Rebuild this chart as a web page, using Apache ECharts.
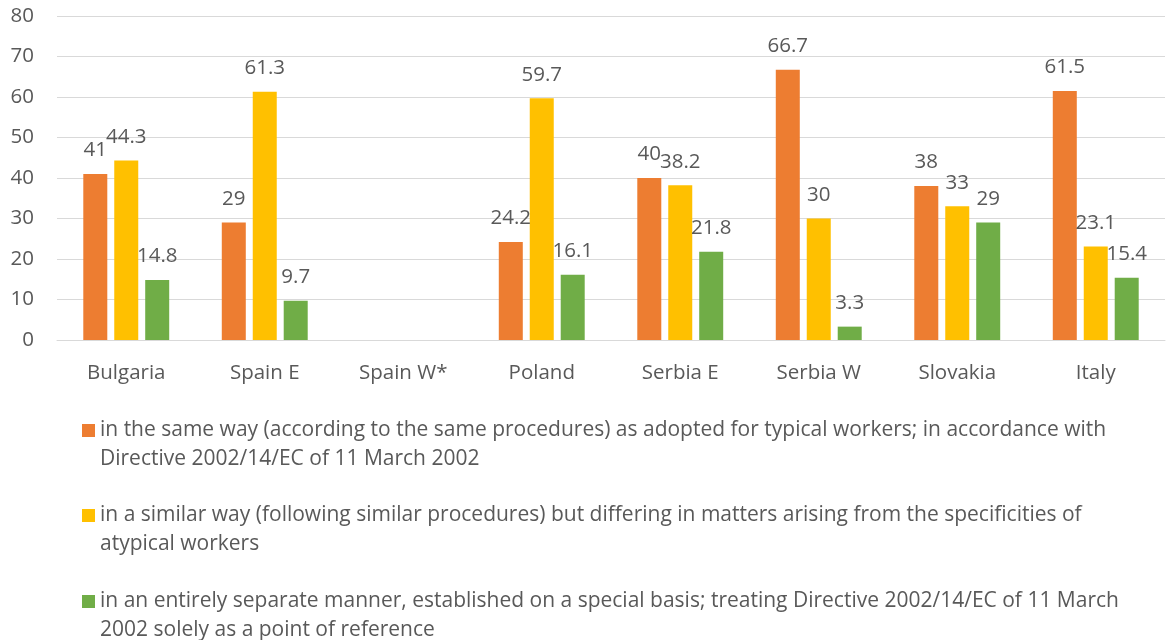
<!DOCTYPE html>
<html>
<head>
<meta charset="utf-8">
<script src="https://cdn.jsdelivr.net/npm/echarts@6/dist/echarts.min.js"></script>
<style>
html,body{margin:0;padding:0;background:#fff;}
#chart{width:1173px;height:640px;}
</style>
</head>
<body>
<div id="chart"></div>
<script>
const categories = ['Bulgaria', 'Spain E', 'Spain W*', 'Poland', 'Serbia E', 'Serbia W', 'Slovakia', 'Italy'];
const sameWay = [41, 29, null, 24.2, 40, 66.7, 38, 61.5];
const similarWay = [44.3, 61.3, null, 59.7, 38.2, 30, 33, 23.1];
const separateWay = [14.8, 9.7, null, 16.1, 21.8, 3.3, 29, 15.4];
const yTicks = [0, 10, 20, 30, 40, 50, 60, 70, 80];

const seriesNames = [
  'in the same way (according to the same procedures) as adopted for typical workers; in accordance with Directive 2002/14/EC of 11 March 2002',
  'in a similar way (following similar procedures) but differing in matters arising from the specificities of atypical workers',
  'in an entirely separate manner, established on a special basis; treating Directive 2002/14/EC of 11 March 2002 solely as a point of reference'
];
const legendLines = [
  ['in the same way (according to the same procedures) as adopted for typical workers; in accordance with', 'Directive 2002/14/EC of 11 March 2002'],
  ['in a similar way (following similar procedures) but differing in matters arising from the specificities of', 'atypical workers'],
  ['in an entirely separate manner, established on a special basis; treating Directive 2002/14/EC of 11 March', '2002 solely as a point of reference']
];
const colors = ['#ED7D31', '#FFC000', '#70AD47'];
const FONT = 'Open Sans';
const textColor = '#595959';

const chart = echarts.init(document.getElementById('chart'), null, {renderer: 'canvas'});

function mkSeries(name, data, color) {
  return {
    name: name,
    type: 'bar',
    data: data,
    barWidth: 24,
    barGap: '29%',
    itemStyle: {color: color},
    label: {
      show: true,
      position: 'top',
      distance: 13,
      color: textColor,
      fontFamily: FONT,
      fontSize: 20.5,
      formatter: p => p.value == null ? '' : String(p.value)
    }
  };
}

const legendTops = [416, 501, 587];
const legends = seriesNames.map((n, i) => ({
  orient: 'vertical',
  left: 82,
  top: legendTops[i],
  itemWidth: 13,
  itemHeight: 42,
  icon: 'path://M0,0L13,0L13,13L0,13Z M0,42L13,42',
  selectedMode: false,
  padding: 0,
  textStyle: {color: textColor, fontFamily: FONT, fontSize: 21, lineHeight: 29},
  formatter: function (name) {
    const k = seriesNames.indexOf(name);
    return legendLines[k][0] + '\n' + legendLines[k][1];
  },
  data: [n]
}));

const option = {
  animation: false,
  color: colors,
  grid: {left: 57, right: 8, top: 16, bottom: 300, containLabel: false},
  xAxis: {
    type: 'category',
    data: categories,
    axisLine: {show: true, lineStyle: {color: '#d9d9d9', width: 1}},
    axisTick: {show: false},
    axisLabel: {color: textColor, fontFamily: FONT, fontSize: 20.5, margin: 23}
  },
  yAxis: {
    type: 'value',
    min: yTicks[0],
    max: yTicks[yTicks.length - 1],
    interval: 10,
    axisLine: {show: false},
    axisTick: {show: false},
    splitLine: {lineStyle: {color: '#d9d9d9', width: 1}},
    axisLabel: {color: textColor, fontFamily: FONT, fontSize: 20.5, margin: 23}
  },
  legend: legends,
  series: [
    mkSeries(seriesNames[0], sameWay, colors[0]),
    mkSeries(seriesNames[1], similarWay, colors[1]),
    mkSeries(seriesNames[2], separateWay, colors[2])
  ]
};
chart.setOption(option);
</script>
</body>
</html>
